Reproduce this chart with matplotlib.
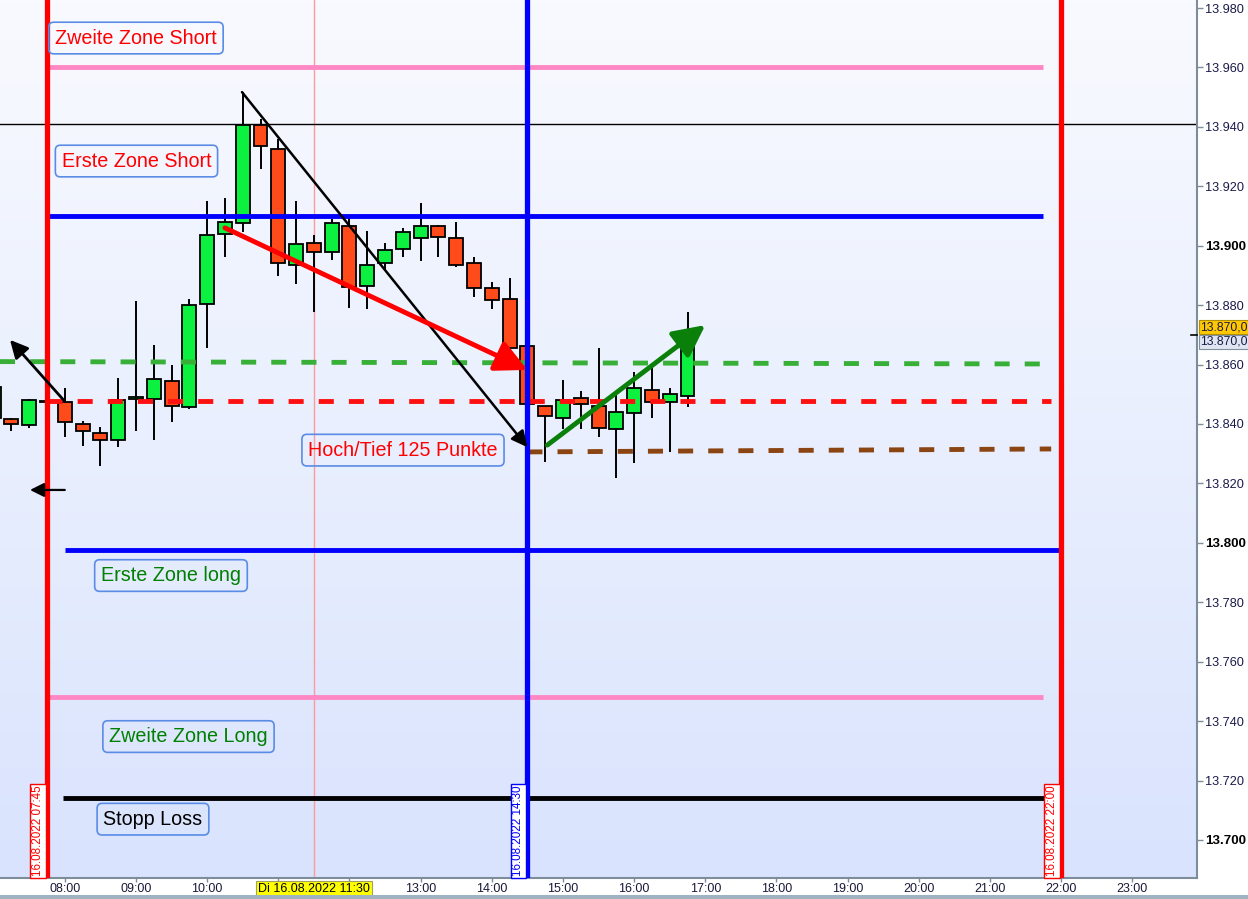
import matplotlib
matplotlib.use('Agg')
import matplotlib.pyplot as plt
import numpy as np
from matplotlib.transforms import blended_transform_factory
from matplotlib.colors import LinearSegmentedColormap
from matplotlib.patches import Rectangle

plt.rcParams['font.family'] = ['Liberation Sans', 'DejaVu Sans']

# ---------------- data ----------------
times = ["07:00", "07:15", "07:30", "07:45",
         "08:00", "08:15", "08:30", "08:45", "09:00", "09:15", "09:30", "09:45",
         "10:00", "10:15", "10:30", "10:45", "11:00", "11:15", "11:30", "11:45",
         "12:00", "12:15", "12:30", "12:45", "13:00", "13:15", "13:30", "13:45",
         "14:00", "14:15", "14:30", "14:45", "15:00", "15:15", "15:30", "15:45",
         "16:00", "16:15", "16:30", "16:45"]
opens = [13842.0, 13841.7, 13839.5, 13847.3,
         13847.3, 13840.0, 13837.0, 13834.5, 13848.3, 13848.3, 13854.4, 13845.6,
         13880.3, 13903.8, 13907.5, 13940.6, 13932.4, 13893.4, 13900.8, 13897.8,
         13906.8, 13886.3, 13894.1, 13898.8, 13902.5, 13906.8, 13902.5, 13894.1,
         13885.7, 13882.0, 13866.1, 13845.9, 13841.9, 13848.6, 13845.9, 13838.2,
         13843.6, 13851.3, 13847.3, 13849.3]
highs = [13853.0, 13842.0, 13848.4, 13847.8,
         13852.0, 13840.9, 13839.0, 13855.5, 13881.4, 13866.6, 13859.8, 13882.1,
         13914.9, 13916.0, 13951.7, 13942.5, 13936.0, 13914.9, 13903.6, 13909.0,
         13909.2, 13904.8, 13900.8, 13905.8, 13914.3, 13907.0, 13907.9, 13896.1,
         13887.7, 13889.0, 13866.5, 13846.2, 13854.8, 13851.0, 13865.5, 13850.1,
         13857.4, 13859.1, 13852.0, 13877.6]
lows = [13841.0, 13837.7, 13838.5, 13847.0,
        13835.7, 13832.7, 13826.0, 13832.3, 13837.7, 13834.7, 13840.8, 13844.9,
        13865.7, 13896.3, 13904.7, 13925.9, 13889.9, 13887.2, 13877.6, 13895.1,
        13879.0, 13878.8, 13891.8, 13896.3, 13895.0, 13896.3, 13892.8, 13882.6,
        13878.8, 13862.2, 13846.2, 13827.3, 13838.2, 13838.2, 13835.5, 13821.7,
        13827.0, 13841.9, 13830.7, 13845.6]
closes = [13852.4, 13840.0, 13848.0, 13847.5,
          13840.6, 13837.6, 13834.5, 13848.0, 13849.0, 13855.0, 13846.0, 13880.0,
          13903.5, 13907.9, 13940.6, 13933.4, 13894.1, 13900.5, 13897.8, 13907.5,
          13886.0, 13893.4, 13898.4, 13904.5, 13906.8, 13902.8, 13893.4, 13885.7,
          13881.6, 13865.5, 13846.6, 13842.6, 13848.0, 13846.6, 13838.5, 13843.9,
          13852.0, 13847.3, 13850.0, 13870.0]

# horizontal levels
zone2_short = 13960.0
zone1_short = 13910.0
zone1_long = 13797.5
zone2_long = 13748.0
stop_loss = 13714.0
crosshair_price = 13941.0
last_price = 13870.0

# dashed trend levels (start, end)
green_dash = (13861.0, 13860.2)
red_dash = (13847.6, 13847.6)
brown_dash = (13830.6, 13831.6)

# vertical markers
vline_times = ["07:45", "14:30", "22:00"]
vline_labels = ["16.08.2022 07:45", "16.08.2022 14:30", "16.08.2022 22:00"]
cursor_time = "11:30"
cursor_label = "Di 16.08.2022 11:30"

hour_ticks = list(range(7, 24))
y_ticks = list(range(13700, 13981, 20))

def h(s):
    a, b = s.split(":")
    return int(a) + int(b) / 60.0

t = np.array([h(s) for s in times])
o = np.array(opens); hi = np.array(highs); lo = np.array(lows); c = np.array(closes)

# ---------------- figure ----------------
W, H = 1248, 899
fig = plt.figure(figsize=(W / 100, H / 100), dpi=100)
fig.patch.set_facecolor('white')
ax = fig.add_axes([0, 1 - 877.7 / H, 1196.5 / W, 877.7 / H])

xmin, xmax = 7.0895, 23.902
ymin, ymax = 13687.3, 13982.7

# background gradient
cmap = LinearSegmentedColormap.from_list('bg', ['#d9e3fd', '#e9effe', '#f9faff'])
grad = np.linspace(0, 1, 256).reshape(-1, 1)
ax.imshow(grad, extent=[0, 1, 0, 1], transform=ax.transAxes, aspect='auto',
          cmap=cmap, origin='lower', zorder=0)

# ---------------- candles ----------------
bw = 0.196
green_c = '#0cf040'
red_c = '#ff4a1a'
for ti, oi, hh, ll, ci in zip(t, o, hi, lo, c):
    col = green_c if ci >= oi else red_c
    ax.vlines(ti, ll, hh, color='black', lw=1.4, zorder=3)
    bot = min(oi, ci)
    ht = max(abs(ci - oi), 0.6)
    ax.add_patch(Rectangle((ti - bw / 2, bot), bw, ht, facecolor=col,
                           edgecolor='black', lw=1.3, zorder=4))

# ---------------- lines ----------------
t745, t1430, t2200 = [h(s) for s in vline_times]
t2145 = h("21:45")
t0800 = h("08:00")

ax.axvline(h(cursor_time), color='#ff9a9a', lw=1.0, zorder=2)
ax.axhline(crosshair_price, color='black', lw=1.0, zorder=2)

ax.hlines(zone2_short, t745, t2145, color='#ff88c4', lw=3.5, zorder=5)
ax.hlines(zone1_short, t745, t2145, color='#0000ff', lw=3.5, zorder=5)
ax.hlines(zone1_long, t0800, t2200, color='#0000ff', lw=3.5, zorder=5)
ax.hlines(zone2_long, t745, t2145, color='#ff88c4', lw=3.5, zorder=5)
ax.hlines(stop_loss, 7.97, t2200, color='black', lw=3.5, zorder=5)

dash = (3.1, 3.1)
ax.plot([xmin, t2145], green_dash, color='#38b038', lw=3.5, dashes=dash, zorder=5)
ax.plot([t745, 21.86], red_dash, color='#ff1010', lw=3.5, dashes=dash, zorder=5)
ax.plot([t1430, 21.86], brown_dash, color='#8b4513', lw=3.5, dashes=dash, zorder=5)

ax.axvline(t745, color='#ff0000', lw=3.8, zorder=6)
ax.axvline(t1430, color='#0000ff', lw=3.8, zorder=6)
ax.axvline(t2200, color='#ff0000', lw=3.8, zorder=6)

# ---------------- arrows ----------------
def arrow(start, end, color, lw, hl, hw, ms):
    ax.annotate('', xy=end, xytext=start,
                arrowprops=dict(arrowstyle=f'-|>,head_length={hl},head_width={hw}',
                                color=color, lw=lw, mutation_scale=ms,
                                shrinkA=0, shrinkB=0), zorder=7)

arrow((8.0, 13847.6), (7.23, 13868.3), 'black', 2.0, 0.6, 0.3, 18)
arrow((8.0, 13817.8), (7.511, 13817.8), 'black', 1.6, 0.6, 0.3, 14)
arrow((10.49, 13951.7), (14.5, 13832.2), 'black', 1.8, 0.6, 0.3, 16)
arrow((10.25, 13906.0), (14.5, 13858.2), '#ff0000', 3.5, 0.8, 0.4, 24)
arrow((14.78, 13832.9), (17.0, 13873.3), '#0a800a', 3.5, 0.8, 0.4, 24)

# ---------------- text boxes ----------------
box = dict(boxstyle='round,pad=0.32,rounding_size=0.25', fc='none',
           ec='#5a8ce6', lw=1.2)
notes = [
    ("Zweite Zone Short", 9.00, 13969.9, '#ff0000'),
    ("Erste Zone Short", 9.007, 13928.5, '#ff0000'),
    ("Hoch/Tief 125 Punkte", 12.752, 13831.2, '#ff0000'),
    ("Erste Zone long", 9.492, 13789.0, '#008000'),
    ("Zweite Zone Long", 9.738, 13734.8, '#008000'),
    ("Stopp Loss", 9.239, 13707.0, '#000000'),
]
for txt, x, y, col in notes:
    ax.text(x, y, txt, color=col, fontsize=14.2, ha='center', va='center',
            bbox=box, zorder=8)

# vertical date labels at the bottom
btrans = blended_transform_factory(ax.transData, ax.transAxes)
for tv, lab, col in zip([t745, t1430, t2200], vline_labels, ['#ff0000', '#0000ff', '#ff0000']):
    ax.text(tv - 0.128, 0.002, lab, rotation=90, color=col, fontsize=8.4,
            ha='center', va='bottom', transform=btrans, zorder=9,
            bbox=dict(boxstyle='square,pad=0.15', fc='white', ec=col, lw=1.0))

# ---------------- axes styling ----------------
for s in ['left', 'top']:
    ax.spines[s].set_visible(False)
for s in ['right', 'bottom']:
    ax.spines[s].set_color('#7d8d9c')
    ax.spines[s].set_linewidth(1.5)

ax.yaxis.tick_right()
ax.set_yticks(y_ticks)
ax.set_yticklabels([f"{v/1000:.3f}" for v in y_ticks])
for v, lab in zip(y_ticks, ax.get_yticklabels()):
    lab.set_fontsize(9.2)
    lab.set_color('#1a1a4a')
    if v % 100 == 0:
        lab.set_fontweight('bold')
        lab.set_fontsize(9.6)
        lab.set_color('black')
ax.tick_params(axis='y', direction='out', length=4, width=1, color='#7d8d9c', pad=2)

ax.set_xticks(hour_ticks)
xl = []
for hr in hour_ticks:
    if hr in (11, 12):
        xl.append("")
    else:
        xl.append(f"{hr:02d}:00")
ax.set_xticklabels(xl, fontsize=9, color='#1a1a3a')
ax.tick_params(axis='x', direction='out', length=3, width=1, color='#7d8d9c', pad=1)

ax.text(h(cursor_time), -0.0125, cursor_label, transform=btrans, ha='center',
        va='center', fontsize=9, color='black',
        bbox=dict(boxstyle='square,pad=0.15', fc='#ffff00', ec='#a0a060', lw=0.8))

# last price markers on the axis
rtrans = blended_transform_factory(ax.transAxes, ax.transData)
ax.text(1.003, last_price + 2.6, "13.870,0", transform=rtrans, ha='left', va='center',
        fontsize=8.7, color='#1a1a4a', clip_on=False,
        bbox=dict(boxstyle='square,pad=0.1', fc='#ffc800', ec='#b09000', lw=0.8))
ax.text(1.003, last_price - 2.4, "13.870,0", transform=rtrans, ha='left', va='center',
        fontsize=8.7, color='#1a1a4a', clip_on=False,
        bbox=dict(boxstyle='square,pad=0.1', fc='#dfe6f2', ec='#8090a0', lw=0.8))
ax.plot([0.995, 1.0], [last_price, last_price], transform=rtrans, color='black', lw=1.2,
        clip_on=False, zorder=9)

# bottom grey band
fig.patches.append(Rectangle((0, 0), 1, 4 / H, transform=fig.transFigure,
                             facecolor='#9fb3c2', edgecolor='none'))

ax.set_xlim(xmin, xmax)
ax.set_ylim(ymin, ymax)

fig.savefig('out.png', dpi=100)
